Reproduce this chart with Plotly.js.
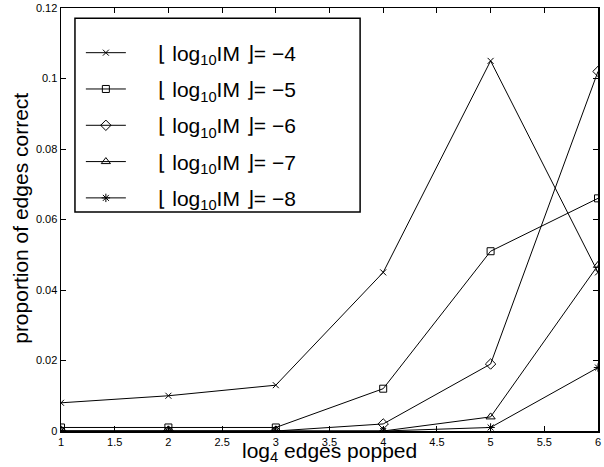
<!DOCTYPE html>
<html>
<head>
<meta charset="utf-8">
<script src="https://cdn.plot.ly/plotly-3.0.1.min.js"></script>
<style>body{margin:0;padding:0;background:#fff;}#chart{width:604px;height:467px;}</style>
</head>
<body>
<div id="chart"></div>
<script>
const xVals = [1, 2, 3, 4, 5, 6];
const seriesNames = ["⌊ log<sub>10</sub>IM ⌋= −4", "⌊ log<sub>10</sub>IM ⌋= −5", "⌊ log<sub>10</sub>IM ⌋= −6", "⌊ log<sub>10</sub>IM ⌋= −7", "⌊ log<sub>10</sub>IM ⌋= −8"];
const im4 = [0.008, 0.010, 0.013, 0.045, 0.105, 0.045];
const im5 = [0.001, 0.001, 0.001, 0.012, 0.051, 0.066];
const im6 = [0.0, 0.0, 0.0, 0.002, 0.019, 0.102];
const im7 = [0.0, 0.0, 0.0, 0.0, 0.004, 0.047];
const im8 = [0.0, 0.0, 0.0, 0.0, 0.001, 0.018];
const xTicks = [1, 1.5, 2, 2.5, 3, 3.5, 4, 4.5, 5, 5.5, 6];
const yTicks = [0, 0.02, 0.04, 0.06, 0.08, 0.1, 0.12];
const xTitle = "log<sub>4</sub> edges popped";
const yTitle = "proportion of edges correct";

const seriesData = [im4, im5, im6, im7, im8];
const symbols = ["x-thin-open", "square-open", "diamond-open", "triangle-up-open", "asterisk-open"];
const sizes = [6, 7, 8, 8, 7];

const traces = seriesData.map((ys, i) => ({
  x: xVals, y: ys, name: "\u00a0\u00a0\u00a0\u00a0\u2009" + seriesNames[i], type: "scatter", mode: "lines+markers",
  legendgroup: "g" + i,
  line: {color: "#000", width: 1},
  marker: {symbol: symbols[i], size: sizes[i], color: "#000", line: {color: "#000", width: 1}}
}));

const font = "Liberation Sans, Arial, sans-serif";
const layout = {
  width: 604, height: 467,
  margin: {l: 61, r: 6, t: 8, b: 36},
  paper_bgcolor: "#fff", plot_bgcolor: "#fff",
  font: {family: font, color: "#000"},
  showlegend: true,
  legend: {
    x: 0.037, y: 0.942, xanchor: "left", yanchor: "top",
    bgcolor: "rgba(0,0,0,0)", borderwidth: 0,
    font: {family: font, size: 21, color: "#000"},
    itemwidth: 40,
    traceorder: "grouped", tracegroupgap: 6
  },
  shapes: [{type: "rect", xref: "paper", yref: "paper", x0: 0.026, x1: 0.557, y0: 0.518, y1: 0.976,
    line: {color: "#000", width: 1.5}, fillcolor: "#fff", layer: "above"}],
  annotations: [
    {text: xTitle, xref: "paper", yref: "paper", x: 0.5, y: -0.050, xanchor: "center", yanchor: "middle",
     showarrow: false, font: {family: font, size: 21, color: "#000"}},
    {text: yTitle, xref: "paper", yref: "paper", x: -0.0745, y: 0.504, xanchor: "center", yanchor: "middle",
     textangle: -90, showarrow: false, font: {family: font, size: 21, color: "#000"}}
  ],
  xaxis: {
    range: [1, 6], tickvals: xTicks, ticktext: xTicks.map(String),
    ticks: "inside", ticklen: 5, tickcolor: "#000", showgrid: false, zeroline: false,
    showline: true, linecolor: "#000", linewidth: 1.5, mirror: "allticks",
    tickfont: {family: font, size: 11, color: "#000"}
  },
  yaxis: {
    range: [0, 0.12], tickvals: yTicks, ticktext: yTicks.map(String),
    ticks: "inside", ticklen: 5, tickcolor: "#000", showgrid: false, zeroline: false,
    showline: true, linecolor: "#000", linewidth: 1.5, mirror: "allticks",
    tickfont: {family: font, size: 11, color: "#000"}
  }
};
Plotly.newPlot("chart", traces, layout, {displayModeBar: false, staticPlot: true});
</script>
</body>
</html>
